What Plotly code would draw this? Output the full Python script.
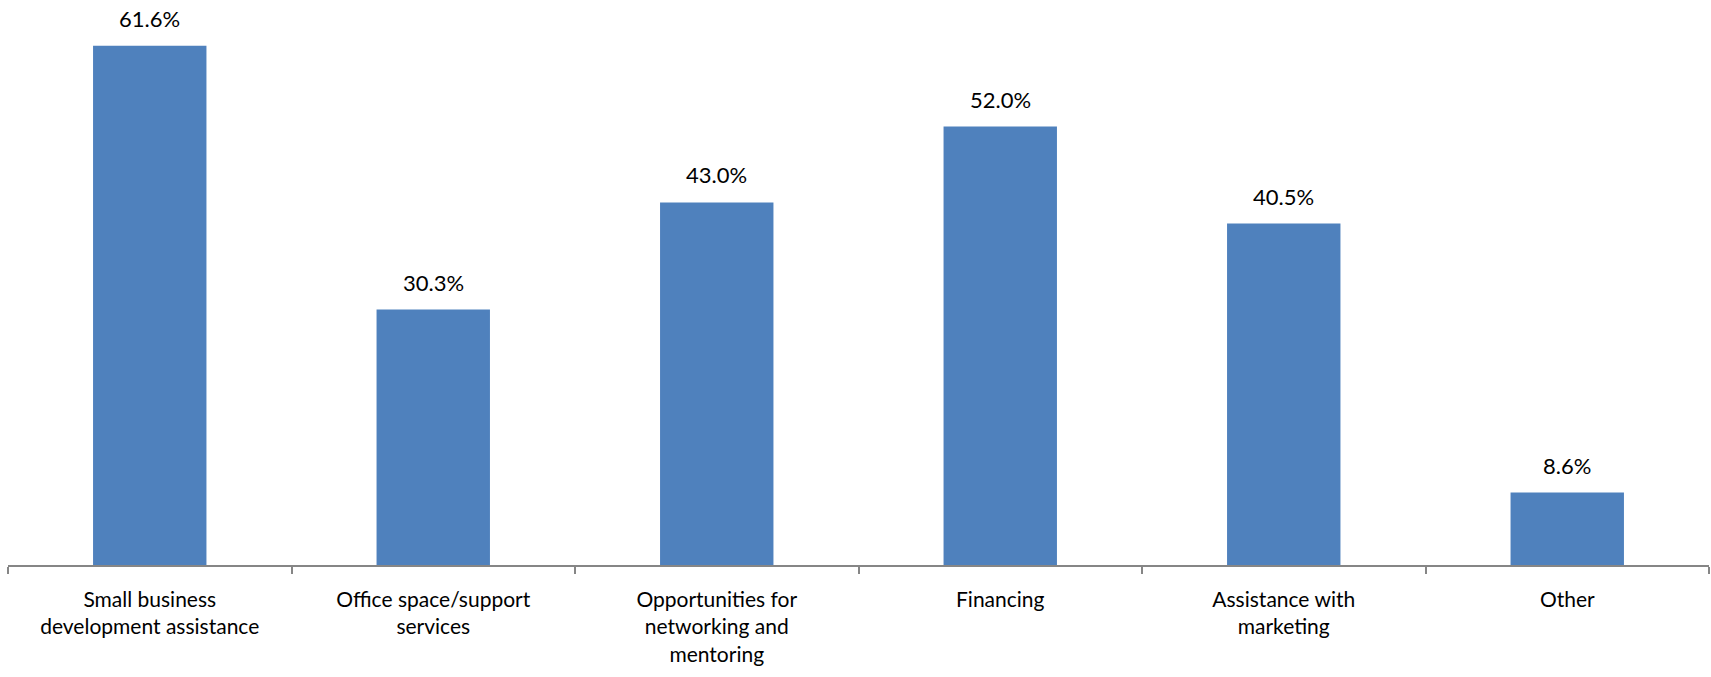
import plotly.graph_objects as go

categories = [
    "Small business<br>development assistance",
    "Office space/support<br>services",
    "Opportunities for<br>networking and<br>mentoring",
    "Financing",
    "Assistance with<br>marketing",
    "Other",
]
values = [61.6, 30.3, 43.0, 52.0, 40.5, 8.6]
labels = [f"{v:.1f}%" for v in values]

FONT = "Lato"

fig = go.Figure()
fig.add_trace(go.Bar(
    x=categories, y=values,
    marker=dict(color="#4F81BD", line=dict(width=0)),
    width=0.4,
    hoverinfo="skip",
))

for c, v, t in zip(categories, values, labels):
    fig.add_annotation(
        x=c, y=v, text=t, showarrow=False,
        yanchor="bottom", xanchor="center", yshift=12,
        font=dict(family=FONT, size=22, color="#000000"),
    )

fig.update_layout(
    width=1711, height=677,
    margin=dict(l=8, r=2, t=17, b=112),
    paper_bgcolor="white", plot_bgcolor="white",
    showlegend=False,
    bargap=0.6,
    font=dict(family=FONT, size=21, color="#000000"),
)
fig.update_xaxes(
    type="category", automargin=False,
    showline=True, linecolor="#868686", linewidth=1.5,
    ticks="outside", tickson="boundaries", ticklen=7, tickcolor="#868686", tickwidth=1.5,
    showgrid=False, zeroline=False,
    tickfont=dict(family=FONT, size=21, color="#000000"),
    tickangle=0, ticklabelstandoff=15,
)
fig.update_yaxes(range=[0, 65], visible=False, showgrid=False, zeroline=False, automargin=False)

fig.write_html(
    "out.html",
    config={"displayModeBar": False},
    post_script="document.body.style.margin='0px';document.body.style.overflow='hidden';",
)
